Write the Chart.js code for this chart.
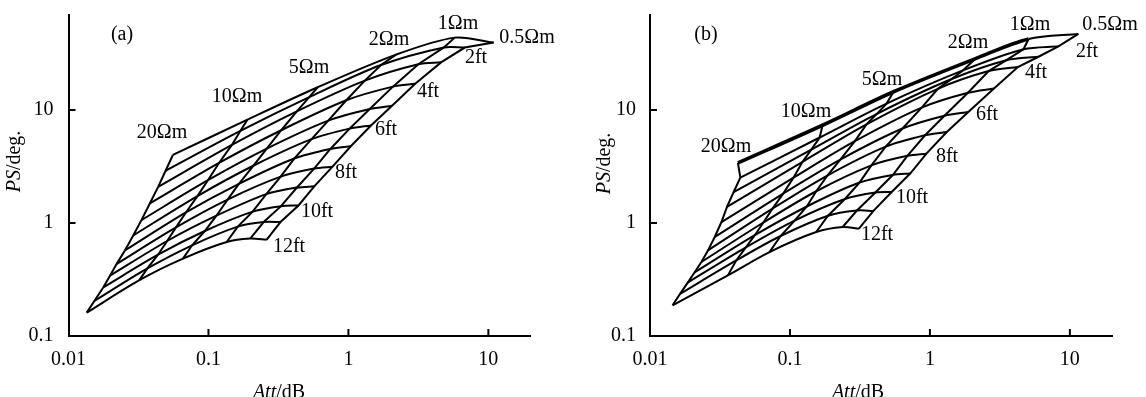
<!DOCTYPE html>
<html>
<head>
<meta charset="utf-8">
<script src="https://cdn.jsdelivr.net/npm/chart.js@4.4.1/dist/chart.umd.min.js"></script>
<style>
  html, body { margin: 0; padding: 0; background: #fff; }
  #wrap { position: relative; width: 1146px; height: 397px; overflow: hidden; }
  .pane { position: absolute; top: 0; width: 573px; height: 397px; }
</style>
</head>
<body>
<div id="wrap">
  <div class="pane" style="left:0"><canvas id="chartA" width="573" height="397"></canvas></div>
  <div class="pane" style="left:573px"><canvas id="chartB" width="573" height="397"></canvas></div>
</div>
<script>
  // ---- data -------------------------------------------------
  var spacingFt = [1, 2, 3, 4, 5, 6, 7, 8, 9, 10, 11, 12];
  var resistivity = ['20Ωm', '10Ωm', '5Ωm', '2Ωm', '1Ωm', '0.5Ωm'];
  var ftLabels = ['2ft', '4ft', '6ft', '8ft', '10ft', '12ft'];
  var xTicks = [0.01, 0.1, 1, 10];
  var yTicks = [0.1, 1, 10];

  // (a)  Att/dB and PS/deg. along each resistivity curve, spacing 1..12 ft
  var att20a = [0.0557, 0.0494, 0.0437, 0.0381, 0.0332, 0.0290, 0.0253, 0.0221, 0.0198, 0.0177, 0.0153, 0.0135];
  var ps20a  = [4.00, 2.90, 2.09, 1.49, 1.06, 0.776, 0.571, 0.435, 0.342, 0.269, 0.204, 0.161];
  var att10a = [0.190, 0.169, 0.147, 0.119, 0.0991, 0.0834, 0.0690, 0.0586, 0.0507, 0.0436, 0.0366, 0.0321];
  var ps10a  = [8.22, 6.53, 4.91, 3.40, 2.39, 1.73, 1.24, 0.914, 0.693, 0.524, 0.396, 0.312];
  var att5a  = [0.603, 0.525, 0.428, 0.331, 0.261, 0.209, 0.165, 0.137, 0.114, 0.0942, 0.0764, 0.0658];
  var ps5a   = [15.9, 13.0, 9.73, 6.62, 4.55, 3.21, 2.22, 1.61, 1.16, 0.849, 0.635, 0.484];
  var att2a  = [2.19, 1.71, 1.31, 0.966, 0.718, 0.545, 0.410, 0.328, 0.259, 0.207, 0.162, 0.135];
  var ps2a   = [30.9, 25.0, 18.2, 12.2, 8.05, 5.52, 3.72, 2.57, 1.80, 1.26, 0.929, 0.679];
  var att1a  = [5.75, 4.81, 3.16, 2.08, 1.42, 1.02, 0.743, 0.569, 0.429, 0.330, 0.248, 0.199];
  var ps1a   = [43.7, 35.8, 25.4, 16.1, 10.2, 6.84, 4.52, 3.03, 2.06, 1.41, 1.02, 0.728];
  var att05a = [10.9, 6.78, 4.59, 3.00, 2.05, 1.45, 1.04, 0.770, 0.570, 0.440, 0.327, 0.260];
  var ps05a  = [39.5, 35.7, 26.4, 17.1, 10.9, 7.30, 4.78, 3.15, 2.11, 1.43, 1.02, 0.710];

  // (b)
  var att20b = [0.0425, 0.0442, 0.0396, 0.0355, 0.0324, 0.0290, 0.0260, 0.0233, 0.0208, 0.0186, 0.0164, 0.0145];
  var ps20b  = [3.40, 2.52, 1.88, 1.39, 1.02, 0.752, 0.573, 0.452, 0.365, 0.297, 0.236, 0.187];
  var att10b = [0.171, 0.163, 0.142, 0.123, 0.106, 0.0895, 0.0750, 0.0646, 0.0561, 0.0484, 0.0413, 0.0360];
  var ps10b  = [7.33, 5.71, 4.46, 3.48, 2.52, 1.82, 1.34, 1.01, 0.780, 0.608, 0.466, 0.344];
  var att5b  = [0.550, 0.490, 0.418, 0.352, 0.291, 0.229, 0.185, 0.154, 0.132, 0.108, 0.0857, 0.0714];
  var ps5b   = [14.5, 11.4, 9.25, 7.46, 5.30, 3.64, 2.63, 1.91, 1.40, 1.05, 0.767, 0.553];
  var att2b  = [2.12, 1.72, 1.43, 1.14, 0.873, 0.637, 0.483, 0.382, 0.314, 0.247, 0.187, 0.154];
  var ps2b   = [28.5, 22.4, 18.8, 15.4, 10.5, 6.86, 4.74, 3.24, 2.28, 1.63, 1.16, 0.832];
  var att1b  = [5.07, 4.66, 3.52, 2.63, 1.87, 1.27, 0.923, 0.690, 0.545, 0.408, 0.301, 0.238];
  var ps1b   = [42.5, 34.5, 27.6, 22.1, 14.2, 8.91, 5.98, 3.93, 2.67, 1.86, 1.29, 0.922];
  var att05b = [11.5, 8.28, 5.97, 4.25, 2.87, 1.88, 1.32, 0.944, 0.723, 0.533, 0.395, 0.311];
  var ps05b  = [47.1, 36.6, 29.6, 24.0, 15.5, 9.60, 6.38, 4.11, 2.74, 1.88, 1.28, 0.891];

  // ---- drawing ----------------------------------------------
  var SERIF = '"Liberation Serif", "DejaVu Serif", serif';
  var FONT = '20px ' + SERIF;
  var FONT_I = 'italic 20px ' + SERIF;

  function mixedText(ctx, parts, x, y, angle, baseline) {
    ctx.save();
    ctx.translate(x, y);
    ctx.rotate(angle);
    ctx.textAlign = 'left';
    ctx.textBaseline = baseline;
    var total = 0;
    parts.forEach(function (p) { ctx.font = p[1]; total += ctx.measureText(p[0]).width; });
    var cx = -total / 2;
    parts.forEach(function (p) {
      ctx.font = p[1];
      ctx.fillText(p[0], cx, 0);
      cx += ctx.measureText(p[0]).width;
    });
    ctx.restore();
  }

  function decorPlugin(cfg) {
    return {
      id: 'decor',
      afterDraw: function (chart) {
        var ctx = chart.ctx, xs = chart.scales.x, ys = chart.scales.y;
        ctx.save();
        // inward tick marks
        ctx.strokeStyle = '#000';
        ctx.lineWidth = 2;
        xTicks.slice(1).forEach(function (v) {
          var p = xs.getPixelForValue(v);
          ctx.beginPath(); ctx.moveTo(p, ys.bottom); ctx.lineTo(p, ys.bottom - 7); ctx.stroke();
        });
        yTicks.slice(1).forEach(function (v) {
          var p = ys.getPixelForValue(v);
          ctx.beginPath(); ctx.moveTo(xs.left, p); ctx.lineTo(xs.left + 7, p); ctx.stroke();
        });
        // curve labels
        ctx.fillStyle = '#000';
        ctx.font = FONT;
        ctx.textAlign = 'center';
        ctx.textBaseline = 'middle';
        ctx.fillText(cfg.tag, cfg.tagPos[0], cfg.tagPos[1]);
        resistivity.forEach(function (t, i) { ctx.fillText(t, cfg.rPos[i][0], cfg.rPos[i][1]); });
        ftLabels.forEach(function (t, i) { ctx.fillText(t, cfg.ftPos[i][0], cfg.ftPos[i][1]); });
        // axis titles
        mixedText(ctx, [['PS', FONT_I], ['/deg.', FONT]], cfg.yTitle[0], cfg.yTitle[1], -Math.PI / 2, 'middle');
        mixedText(ctx, [['Att', FONT_I], ['/dB', FONT]], cfg.xTitle[0], cfg.xTitle[1], 0, 'alphabetic');
        ctx.restore();
      }
    };
  }

  function makePanel(id, lines, cfg) {
    var datasets = [];
    lines.forEach(function (line) {
      datasets.push({
        data: line.att.map(function (a, k) { return { x: a, y: line.ps[k] }; }),
        borderColor: '#000', borderWidth: 2, pointRadius: 0, tension: 0, fill: false
      });
    });
    spacingFt.forEach(function (ft, k) {
      var ds = {
        data: lines.map(function (line) { return { x: line.att[k], y: line.ps[k] }; }),
        borderColor: '#000', borderWidth: 2, pointRadius: 0, tension: 0.3, fill: false
      };
      if (k === 0 && cfg.thickTop) {
        ds.segment = { borderWidth: function (c) { return c.p1DataIndex <= 4 ? 3.6 : 2; } };
      }
      datasets.push(ds);
    });

    var tickFont = { family: SERIF, size: 20 };
    function zeroPad(s) { s.paddingTop = 0; s.paddingBottom = 0; s.paddingLeft = 0; s.paddingRight = 0; }

    return new Chart(document.getElementById(id), {
      type: 'line',
      data: { datasets: datasets },
      options: {
        responsive: false,
        animation: false,
        events: [],
        layout: { autoPadding: false, padding: { left: 0, right: cfg.padRight, top: 15, bottom: 0 } },
        plugins: { legend: { display: false }, tooltip: { enabled: false } },
        scales: {
          x: {
            type: 'logarithmic', min: 0.01, max: 20,
            afterBuildTicks: function (s) { s.ticks = xTicks.map(function (v) { return { value: v }; }); },
            afterFit: function (s) { s.height = 61; zeroPad(s); },
            ticks: { callback: function (v) { return String(v); }, font: tickFont, color: '#000',
                     padding: 12, maxRotation: 0, autoSkip: false },
            grid: { drawOnChartArea: false, drawTicks: false },
            border: { color: '#000', width: 2 }
          },
          y: {
            type: 'logarithmic', min: 0.1, max: 69.3,
            afterBuildTicks: function (s) { s.ticks = yTicks.map(function (v) { return { value: v }; }); },
            afterFit: function (s) { s.width = cfg.axisLeft; zeroPad(s); },
            ticks: { callback: function (v) { return String(v); }, font: tickFont, color: '#000',
                     padding: cfg.yPad, autoSkip: false },
            grid: { drawOnChartArea: false, drawTicks: false },
            border: { color: '#000', width: 2 }
          }
        }
      },
      plugins: [decorPlugin(cfg)]
    });
  }

  makePanel('chartA', [
    { att: att20a, ps: ps20a }, { att: att10a, ps: ps10a }, { att: att5a, ps: ps5a },
    { att: att2a, ps: ps2a }, { att: att1a, ps: ps1a }, { att: att05a, ps: ps05a }
  ], {
    axisLeft: 68.5, padRight: 42.5, yPad: 15, thickTop: false,
    tag: '(a)', tagPos: [122, 35],
    rPos: [[162, 133], [237, 97], [309, 68], [389, 40], [458, 24], [527, 38]],
    ftPos: [[476, 58], [428, 92], [386, 130], [346, 173], [317, 212], [289, 247]],
    yTitle: [14.5, 161.5], xTitle: [279, 398]
  });

  makePanel('chartB', [
    { att: att20b, ps: ps20b }, { att: att10b, ps: ps10b }, { att: att5b, ps: ps5b },
    { att: att2b, ps: ps2b }, { att: att1b, ps: ps1b }, { att: att05b, ps: ps05b }
  ], {
    axisLeft: 77, padRight: 34, yPad: 14, thickTop: true,
    tag: '(b)', tagPos: [133, 35],
    rPos: [[153, 147], [233, 112], [309, 80], [395, 43], [457, 25], [537, 25]],
    ftPos: [[514, 52], [463, 73], [414, 115], [374, 157], [339, 198], [304, 235]],
    yTitle: [31.8, 163.5], xTitle: [285, 398]
  });
</script>
</body>
</html>
